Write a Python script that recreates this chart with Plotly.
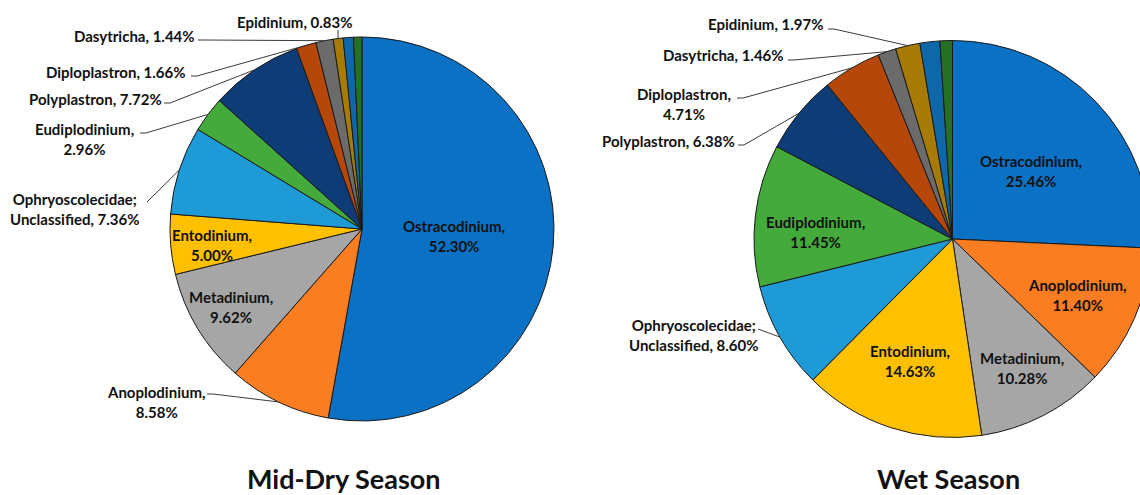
import math
import plotly.graph_objects as go

# ---------------- data ----------------
taxa = ["Ostracodinium", "Anoplodinium", "Metadinium", "Entodinium",
        "Ophryoscolecidae; Unclassified", "Eudiplodinium", "Polyplastron",
        "Diploplastron", "Dasytricha", "Epidinium", "Unlabelled A", "Unlabelled B"]
dry_values = [52.30, 8.58, 9.62, 5.00, 7.36, 2.96, 7.72, 1.66, 1.44, 0.83, 0.85, 0.70]
wet_values = [25.46, 11.40, 10.28, 14.63, 8.60, 11.45, 6.38, 4.71, 1.46, 1.97, 1.60, 1.00]
titles = ["Mid-Dry Season", "Wet Season"]

colors = ["#0A71C4", "#FA7D22", "#A6A6A6", "#FFC000", "#1E9AD6", "#44AA3C",
          "#0D3C76", "#B5470A", "#6B6B6B", "#A77B05", "#0E67A9", "#267026"]

# ---------------- layout / style ----------------
W, H = 1160, 495
FONT = "Lato"

# pie boxes in pixels: (left, top, right, bottom)
boxes = [(170, 37, 554, 421), (754, 40.5, 1151, 437.5)]

# label placement per slice: (cx, cy, mode, leader_start or None)
# mode: 'b' break after comma, 's' single line, 'n' break after ';'
dry_lab = [(454, 236, 'b', None), (156, 402, 'b', (207, 394)), (231, 307, 'b', None),
           (212, 245, 'b', None), (75, 209, 'n', (147, 202)), (85, 139, 'b', (140, 133)),
           (95, 99, 's', (164, 103)), (116, 72, 's', (191, 76)), (134, 36, 's', (198, 40)),
           (295, 22, 's', (338, 30)), None, None]
wet_lab = [(1031, 171, 'b', None), (1077, 295, 'b', None), (1022, 368, 'b', None),
           (910, 361, 'b', None), (694, 335, 'n', (758, 329)), (815, 232, 'b', None),
           (668, 141, 's', (738, 145)), (684, 104, 'b', (737, 98)), (723, 55, 's', (788, 60)),
           (766, 24, 's', (828, 29)), None, None]
title_pos = [(344, 478), (948, 478)]


def px(x):
    return x / W


def py(y):
    return 1 - y / H


def label_text(name, val, mode):
    pct = f"{val:.2f}%"
    if mode == 'b':
        return f"{name},<br>{pct}"
    if mode == 'n':
        return name.replace("; ", ";<br>") + f", {pct}"
    return f"{name}, {pct}"


fig = go.Figure()
annotations = []
shapes = []

for k, (vals, labs, box) in enumerate([(dry_values, dry_lab, boxes[0]),
                                       (wet_values, wet_lab, boxes[1])]):
    l, t, r, b = box
    fig.add_trace(go.Pie(
        labels=taxa, values=vals, sort=False, direction="clockwise", rotation=0,
        marker=dict(colors=colors, line=dict(color="#1a1a1a", width=1)),
        textinfo="none", hoverinfo="label+value", showlegend=False,
        domain=dict(x=[px(l), px(r)], y=[py(b), py(t)]),
    ))
    cx, cy = (l + r) / 2, (t + b) / 2
    rad = min(r - l, b - t) / 2
    total = sum(vals)
    cum = 0.0
    for i, v in enumerate(vals):
        mid = (cum + v / 2) / total * 2 * math.pi
        cum += v
        lab = labs[i]
        if lab is None:
            continue
        x, y, mode, start = lab
        annotations.append(dict(
            x=px(x), y=py(y), xref="paper", yref="paper", showarrow=False,
            text=label_text(taxa[i], v, mode), xanchor="center", yanchor="middle",
            align="center",
            font=dict(family=FONT, size=15, color="#111111", weight="bold")))
        if start is not None:
            ex = cx + rad * math.sin(mid)
            ey = cy - rad * math.cos(mid)
            sx, sy = start
            if abs(ex - sx) > 40:
                kx = sx + 6
                shapes.append(dict(type="line", xref="paper", yref="paper",
                                   x0=px(sx), y0=py(sy), x1=px(kx), y1=py(sy),
                                   line=dict(color="#3a3a3a", width=1)))
                sx = kx
            shapes.append(dict(type="line", xref="paper", yref="paper",
                               x0=px(sx), y0=py(sy), x1=px(ex), y1=py(ey),
                               line=dict(color="#3a3a3a", width=1)))

for (tx, ty), title in zip(title_pos, titles):
    annotations.append(dict(x=px(tx), y=py(ty), xref="paper", yref="paper",
                            showarrow=False, text=title,
                            xanchor="center", yanchor="middle",
                            font=dict(family=FONT, size=27, color="#111111", weight="bold")))

fig.update_layout(
    width=W, height=H, margin=dict(l=0, r=0, t=0, b=0),
    paper_bgcolor="white", plot_bgcolor="white",
    annotations=annotations, shapes=shapes,
    font=dict(family=FONT, weight="bold"),
)

fig.write_html(
    "out.html",
    config={"displayModeBar": False},
    post_script="document.body.style.margin='0';document.body.style.overflow='hidden';"
                "document.documentElement.style.overflow='hidden';",
)
